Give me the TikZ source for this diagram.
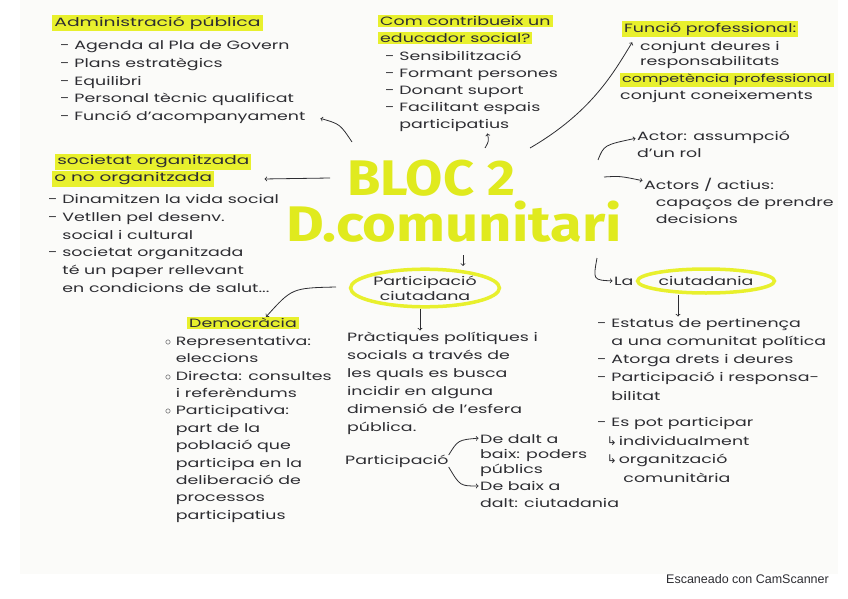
\documentclass[tikz,border=0pt]{standalone}
\usepackage{fontspec}
\setmainfont{Poppins}[FakeStretch=1.45]
\newfontfamily\titlefont{Fira Sans}
\newfontfamily\symfont{DejaVu Sans}
\newfontfamily\scanfont{Liberation Sans}
\usetikzlibrary{shapes.geometric}
\definecolor{NotesInk}{RGB}{45,45,50}
\definecolor{NotesYellow}{RGB}{232,240,45}
\definecolor{NotesTitle}{RGB}{224,234,30}
\definecolor{NotesPaper}{RGB}{251,251,249}
\tikzset{
  notes/.style={inner sep=0pt, align=left, text=NotesInk, font=\fontsize{12}{17.8}\selectfont},
  heading/.style={notes, fill=NotesYellow, inner xsep=2pt, inner ysep=1.5pt},
  ring/.style={ellipse, draw=NotesYellow, line width=3.5pt, align=center, inner sep=1pt, text=NotesInk},
  title/.style={text=NotesTitle, inner sep=0pt, font=\titlefont\bfseries\fontsize{50}{50}\selectfont},
  link/.style={draw=NotesInk, line width=0.8pt, ->, shorten >=1.5pt}
}
\newcommand{\hook}{{\symfont\fontsize{12}{12}\selectfont ↳}\,}
\begin{document}
\begin{tikzpicture}[x=1pt,y=-1pt]
		\useasboundingbox (0,0) rectangle (848,599);
		\fill[white] (0,0) rectangle (848,599);
		\fill[NotesPaper] (20,0) rectangle (838,574);
		% title
		\node[title, xscale=1.08] (bloc) at (431,178) {BLOC 2};
		\node[title, xscale=1.16] (dcom) at (454,222) {D.comunitari};
		% administracio publica
		\node[heading, anchor=west, xscale=1.08] (admin) at (52,23) {Administració pública};
		\node[notes, anchor=north west] (adminlist) at (60,40.5)
		{- Agenda al Pla de Govern\\- Plans estratègics\\- Equilibri\\- Personal tècnic qualificat\\- Funció d'acompanyament};
		% educador social
		\node[heading, anchor=west] (educ1) at (378,21) {Com contribueix un};
		\node[heading, anchor=west] (educ2) at (378,38) {educador social?};
		\node[notes, anchor=north west, font=\fontsize{12}{17}\selectfont] (educlist) at (385,51)
		{- Sensibilització\\- Formant persones\\- Donant suport\\- Facilitant espais\\\phantom{- }participatius};
		% funcio professional
		\node[heading, anchor=west] (prof) at (622,29) {Funció professional:};
		\node[notes, anchor=north west, font=\fontsize{12}{15.5}\selectfont] (proflist) at (640,41)
		{conjunt deures i\\responsabilitats};
		\node[heading, anchor=west, font=\fontsize{11}{13}\selectfont] (comp) at (620,80) {competència professional};
		\node[notes, anchor=west] (complist) at (620,96) {conjunt coneixements};
		% societat organitzada
		\node[heading, anchor=west, xscale=1.06] (soc1) at (55,162) {societat organitzada};
		\node[heading, anchor=west, xscale=1.06] (soc2) at (52,179) {o no organitzada};
		\node[notes, anchor=north west, font=\fontsize{12}{17.7}\selectfont] (soclist) at (48,194.5)
		{- Dinamitzen la vida social\\- Vetllen pel desenv.\\\phantom{- }social i cultural\\- societat organitzada\\\phantom{- }té un paper rellevant\\\phantom{- }en condicions de salut...};
		% actors
		\node[notes, anchor=north west, font=\fontsize{12}{17}\selectfont] (actor) at (637,131)
		{Actor: assumpció\\d'un rol};
		\node[notes, anchor=north west, font=\fontsize{12}{17}\selectfont] (actius) at (644,178)
		{Actors / actius:\\\phantom{A}capaços de prendre\\\phantom{A}decisions};
		% participacio ciutadana
		\node[ring, minimum width=146, minimum height=34, font=\fontsize{12}{15}\selectfont] (partic) at (425,288)
		{Participació\\ciutadana};
		\node[notes, anchor=north west, font=\fontsize{12}{18}\selectfont] (pract) at (347,332)
		{Pràctiques polítiques i\\socials a través de\\les quals es busca\\incidir en alguna\\dimensió de l'esfera\\pública.};
		\node[notes, anchor=west] (particip) at (345,461) {Participació};
		\node[notes, anchor=north west, font=\fontsize{12}{15}\selectfont] (dalt) at (480,434)
		{De dalt a\\baix: poders\\públics};
		\node[notes, anchor=north west, font=\fontsize{12}{17}\selectfont] (baix) at (480,481)
		{De baix a\\dalt: ciutadania};
		% democracia
		\node[heading, anchor=west] (demo) at (187,323) {Democràcia};
		\node[notes, anchor=north west, font=\fontsize{12}{17.4}\selectfont] (demolist) at (165,336)
		{$\circ$ Representativa:\\\phantom{$\circ$ }eleccions\\$\circ$ Directa: consultes\\\phantom{$\circ$ }i referèndums\\$\circ$ Participativa:\\\phantom{$\circ$ }part de la\\\phantom{$\circ$ }població que\\\phantom{$\circ$ }participa en la\\\phantom{$\circ$ }deliberació de\\\phantom{$\circ$ }processos\\\phantom{$\circ$ }participatius};
		% ciutadania
		\node[notes, anchor=west] (la) at (614,281) {La};
		\node[ring, minimum width=120, minimum height=24, font=\fontsize{12}{13}\selectfont] (ciut) at (706,281) {ciutadania};
		\node[notes, anchor=north west, font=\fontsize{12}{18.2}\selectfont] (ciutlist) at (597,318)
		{- Estatus de pertinença\\\phantom{- }a una comunitat política\\- Atorga drets i deures\\- Participació i responsa-\\\phantom{- }bilitat};
		\node[notes, anchor=north west, font=\fontsize{12}{18.7}\selectfont] (espot) at (597,417)
		{- Es pot participar\\\phantom{-}\hook individualment\\\phantom{-}\hook organització\\\phantom{- \hook}comunitària};
		% connectors
		\coordinate (from-admin) at (352,142);
		\coordinate (to-admin) at (319,118);
		\draw[link] (from-admin) .. controls (340,124) .. (to-admin);
		\coordinate (from-soc) at (330,178);
		\draw[link] (from-soc) -- (soc2.east -| 263,178);
		\coordinate (from-demo) at (336,287);
		\coordinate (to-demo) at (265,318);
		\draw[link] (from-demo) .. controls (292,288) .. (to-demo);
		\coordinate (from-educ) at (485,148);
		\draw[link] (from-educ) .. controls (489,141) .. (educlist.south -| 487,132);
		\coordinate (from-prof) at (530,148);
		\coordinate (to-prof) at (633,41);
		\draw[link] (from-prof) .. controls (592,112) and (614,72) .. (to-prof);
		\coordinate (from-actor) at (598,160);
		\draw[link] (from-actor) .. controls (604,145) .. (actor.west |- 632,138);
		\coordinate (from-actius) at (604,177);
		\draw[link] (from-actius) .. controls (620,176) .. (actius.west |- 640,181);
		\coordinate (from-partic) at (463,255);
		\draw[link] (from-partic) -- (partic.north -| 463,268);
		\draw[link] (partic.south -| 420,312) -- (pract.north -| 420,322);
		\coordinate (from-ciut) at (597,258);
		\draw[link] (from-ciut) .. controls (593,280) .. (la.west);
		\draw[link] (ciut.south -| 678,296) -- (ciutlist.north -| 678,306);
		\draw[link] (particip.east |- 458,455) .. controls (458,440) .. (dalt.west |- 476,438);
		\draw[link] (particip.east |- 458,467) .. controls (460,486) .. (baix.west |- 476,486);
		% footer
		\node[anchor=west, inner sep=0pt, text=NotesInk] (scan) at (666,579)
		{\scanfont\fontsize{12.5}{14}\selectfont Escaneado con CamScanner};
	\end{tikzpicture}
\end{document}
